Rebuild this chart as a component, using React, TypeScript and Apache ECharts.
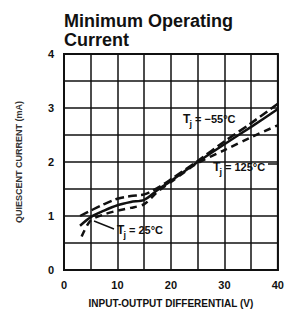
import React, { useEffect, useRef } from "react";
import * as echarts from "echarts";

const xTicks = [0, 10, 20, 30, 40];
const yTicks = [0, 1, 2, 3, 4];
const cold = [[3, 1.0], [5, 1.1], [7.5, 1.22], [10, 1.32], [12.5, 1.37], [15, 1.4], [17.5, 1.52], [20, 1.68], [25, 2.02], [30, 2.38], [35, 2.72], [40, 3.08]];
const room = [[3, 0.82], [5, 0.98], [7.5, 1.1], [10, 1.2], [12.5, 1.26], [15, 1.3], [17.5, 1.48], [20, 1.65], [25, 2.0], [30, 2.33], [35, 2.65], [40, 2.98]];
const hot = [[3.3, 0.62], [5, 0.92], [7.5, 1.03], [10, 1.1], [12.5, 1.15], [15, 1.22], [17.5, 1.45], [20, 1.63], [25, 1.98], [30, 2.22], [35, 2.46], [40, 2.68]];

const FONT = "'Liberation Sans Narrow', 'Liberation Sans', Arial, sans-serif";
const INK = "#111";

function label(x: number, y: number, temp: string) {
  return [
    { type: "text", left: x, top: y - 7, style: { text: "T", font: `bold 12px ${FONT}`, fill: INK } },
    { type: "text", left: x + 6.5, top: y - 1, style: { text: "j", font: `bold 9px ${FONT}`, fill: INK } },
    { type: "text", left: x + 12, top: y - 7, style: { text: `= ${temp}°C`, font: `bold 11px ${FONT}`, fill: INK } },
  ];
}

export default function App() {
  const ref = useRef<HTMLDivElement>(null);
  useEffect(() => {
    document.body.style.margin = "0";
    if (!ref.current) return;
    const chart = echarts.init(ref.current, null, { renderer: "svg" });
    chart.setOption({
      animation: false,
      backgroundColor: "#fff",
      title: {
        text: "Minimum Operating\nCurrent",
        left: 64,
        top: 11,
        padding: 0,
        textStyle: { fontSize: 18, fontWeight: "bold", lineHeight: 19, color: INK, fontFamily: "'Liberation Sans', Arial, sans-serif" },
      },
      grid: { left: 64, right: 8, top: 54, bottom: 47, show: true, borderColor: INK, borderWidth: 2 },
      xAxis: {
        type: "value",
        min: 0,
        max: 40,
        interval: 5,
        name: "INPUT-OUTPUT DIFFERENTIAL (V)",
        nameLocation: "middle",
        nameGap: 28,
        nameTextStyle: { fontSize: 10, fontWeight: "bold", color: INK, fontFamily: FONT },
        axisLine: { show: true, lineStyle: { color: INK, width: 2 } },
        axisTick: { show: false },
        axisLabel: {
          margin: 9,
          fontSize: 11,
          fontWeight: "bold",
          color: INK,
          fontFamily: FONT,
          formatter: (v: number) => (xTicks.includes(v) ? String(v) : ""),
        },
        splitLine: { show: true, lineStyle: { color: INK, width: 1.5 } },
      },
      yAxis: {
        type: "value",
        min: 0,
        max: 4,
        interval: 0.5,
        name: "QUIESCENT CURRENT (mA)",
        nameLocation: "middle",
        nameGap: 41,
        nameTextStyle: { fontSize: 9, fontWeight: "bold", color: "#333", fontFamily: FONT },
        axisLine: { show: true, lineStyle: { color: INK, width: 2 } },
        axisTick: { show: false },
        axisLabel: {
          margin: 10,
          fontSize: 11,
          fontWeight: "bold",
          color: INK,
          fontFamily: FONT,
          formatter: (v: number) => (yTicks.includes(v) ? String(v) : ""),
        },
        splitLine: { show: true, lineStyle: { color: INK, width: 1.5 } },
      },
      series: [
        { name: "Tj = -55°C", type: "line", data: cold, smooth: 0.3, symbol: "none", lineStyle: { color: INK, width: 2.5, type: [9, 4] } },
        { name: "Tj = 25°C", type: "line", data: room, smooth: 0.3, symbol: "none", lineStyle: { color: INK, width: 2.5 } },
        { name: "Tj = 125°C", type: "line", data: hot, smooth: 0.3, symbol: "none", lineStyle: { color: INK, width: 2.5, type: [7, 5] } },
      ],
      graphic: [
        ...label(183, 120, "−55"),
        ...label(213, 168, "125"),
        ...label(117, 231, "25"),
        { type: "line", shape: { x1: 94, y1: 221, x2: 114, y2: 229 }, style: { stroke: INK, lineWidth: 1.5 } },
        { type: "line", shape: { x1: 268, y1: 164, x2: 277, y2: 164 }, style: { stroke: INK, lineWidth: 1.5 } },
      ],
    });
    return () => chart.dispose();
  }, []);
  return <div ref={ref} style={{ width: 287, height: 317 }} />;
}
